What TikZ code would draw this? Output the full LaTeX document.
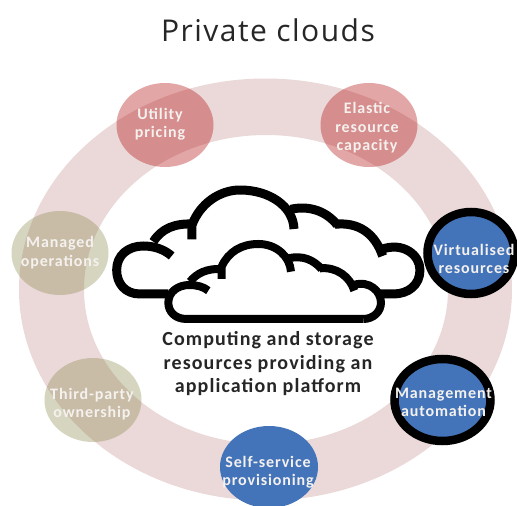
\documentclass[tikz,border=0pt]{standalone}
\usepackage{fontspec}
\setmainfont{Carlito}
\newfontfamily\spacedfont[LetterSpace=5.5]{Carlito}
\newfontfamily\titlefont[LetterSpace=5]{Open Sans}
\usetikzlibrary{shapes.geometric}
\definecolor{ringpink}{HTML}{EBD9D9}
\definecolor{rosebase}{RGB}{175,0,0}
\definecolor{olivebase}{RGB}{135,135,75}
\definecolor{bluefill}{HTML}{4373B8}
\definecolor{labelwhite}{HTML}{F4F1EE}
\tikzset{
  bubble/.style={ellipse,inner sep=0pt},
  bubbletext/.style={align=center,inner sep=0pt,text=labelwhite,
    font=\spacedfont\fontsize{16}{18.5}\selectfont\bfseries},
  rose/.style={bubble,fill=rosebase,fill opacity=0.35,minimum width=97pt,minimum height=84pt},
  olive/.style={bubble,fill=olivebase,fill opacity=0.35,minimum width=97pt,minimum height=84pt},
  blue/.style={bubble,fill=bluefill,minimum width=98pt,minimum height=82pt},
  ringed/.style={bubble,fill=bluefill,draw=black,line width=8.5pt},
  cloudline/.style={draw=black,line width=9pt,line join=round,line cap=butt},
  smallcloudline/.style={draw=black,line width=8pt,line join=round,line cap=butt},
  caption/.style={align=center,text=black!85,font=\spacedfont\fontsize{20}{23.5}\selectfont\bfseries},
  heading/.style={text=black!85,font=\titlefont\fontsize{30}{34}\selectfont}
}
\begin{document}
\begin{tikzpicture}[x=1pt,y=-1pt]
\useasboundingbox (0,0) rectangle (517,506);
\fill[white] (0,0) rectangle (517,506);
\node[heading] (title) at (268,30) {Private clouds};
% ring
\fill[ringpink,even odd rule] (265.5,289.5) ellipse [x radius=246.5,y radius=211]
  (266,289.5) ellipse [x radius=182,y radius=154.5];
% bubbles
\node[rose] (utility) at (165,125) {};
\node[bubbletext] (utilitytext) at (160,124) {Utility\\pricing};
\node[rose] (elastic) at (369,125) {};
\node[bubbletext] (elastictext) at (367,128) {Elastic\\resource\\capacity};
\node[olive] (managed) at (60,253) {};
\node[bubbletext] (managedtext) at (60,252.5) {Managed\\operations};
\node[olive] (third) at (93,400) {};
\node[bubbletext] (thirdtext) at (92,404) {Third-party\\ownership};
\node[ringed,minimum width=87pt,minimum height=82pt] (virtual) at (471,253) {};
\node[bubbletext] (virtualtext) at (474,259) {Virtualised\\resources};
\node[ringed,minimum width=96pt,minimum height=82pt] (mgmt) at (442.5,400) {};
\node[bubbletext] (mgmttext) at (443.5,402.5) {Management\\automation};
\node[blue] (self) at (269,467) {};
\node[bubbletext] (selftext) at (268,472) {Self-service\\provisioning};
% big cloud
\begin{scope}[shift={(100,170)},x=0.3333pt,y=-0.3333pt]
\path[fill=white] (120,372) .. controls (75,372) and (50,340) .. (50,300)
  .. controls (50,255) and (85,228) .. (130,228) -- (160,215)
  .. controls (185,175) and (225,160) .. (280,162)
  .. controls (300,100) and (360,60) .. (420,60)
  .. controls (490,60) and (540,85) .. (575,118)
  .. controls (630,105) and (680,125) .. (712,165)
  .. controls (775,155) and (825,190) .. (845,240)
  .. controls (910,215) and (960,255) .. (960,300)
  .. controls (960,345) and (925,372) .. (880,372) -- cycle;
\draw[cloudline] (205,372) -- (120,372) .. controls (75,372) and (50,340) .. (50,300)
  .. controls (50,255) and (85,228) .. (130,228)
  .. controls (165,228) and (195,240) .. (215,258);
\draw[cloudline] (160,215) .. controls (185,175) and (225,160) .. (278,162);
\draw[cloudline] (276,208) -- (276,165) .. controls (300,100) and (360,60) .. (420,60)
  .. controls (510,60) and (580,110) .. (582,177);
\draw[cloudline] (572,118) .. controls (630,105) and (680,125) .. (712,165);
\draw[cloudline] (705,163) .. controls (775,155) and (825,190) .. (848,258);
\draw[cloudline] (845,238) .. controls (910,215) and (960,255) .. (960,300)
  .. controls (960,345) and (925,372) .. (880,372) -- (840,372);
% small cloud
\path[fill=white] (260,447) .. controls (225,447) and (205,425) .. (205,398)
  .. controls (205,365) and (235,345) .. (270,345)
  .. controls (290,310) and (320,295) .. (365,295)
  .. controls (385,245) and (425,222) .. (475,222)
  .. controls (520,222) and (550,240) .. (572,265)
  .. controls (610,255) and (640,270) .. (665,297)
  .. controls (710,295) and (745,320) .. (765,345)
  .. controls (810,330) and (843,365) .. (843,398)
  .. controls (843,425) and (820,447) .. (790,447) -- cycle;
\draw[smallcloudline] (790,447) -- (260,447) .. controls (225,447) and (205,425) .. (205,398)
  .. controls (205,365) and (235,345) .. (268,345)
  .. controls (290,345) and (310,350) .. (325,362);
\draw[smallcloudline] (270,335) .. controls (290,310) and (320,295) .. (365,297);
\draw[smallcloudline] (365,327) -- (365,290) .. controls (385,245) and (425,222) .. (475,222)
  .. controls (530,222) and (570,260) .. (573,305);
\draw[smallcloudline] (565,265) .. controls (610,255) and (640,270) .. (665,297);
\draw[smallcloudline] (660,295) .. controls (710,290) and (750,320) .. (763,362);
\draw[smallcloudline] (760,345) .. controls (810,330) and (843,365) .. (843,398)
  .. controls (843,425) and (820,447) .. (790,447);
\end{scope}
\node[caption] (caption) at (268,364) {Computing and storage\\resources providing an\\application platform};
\end{tikzpicture}
\end{document}
